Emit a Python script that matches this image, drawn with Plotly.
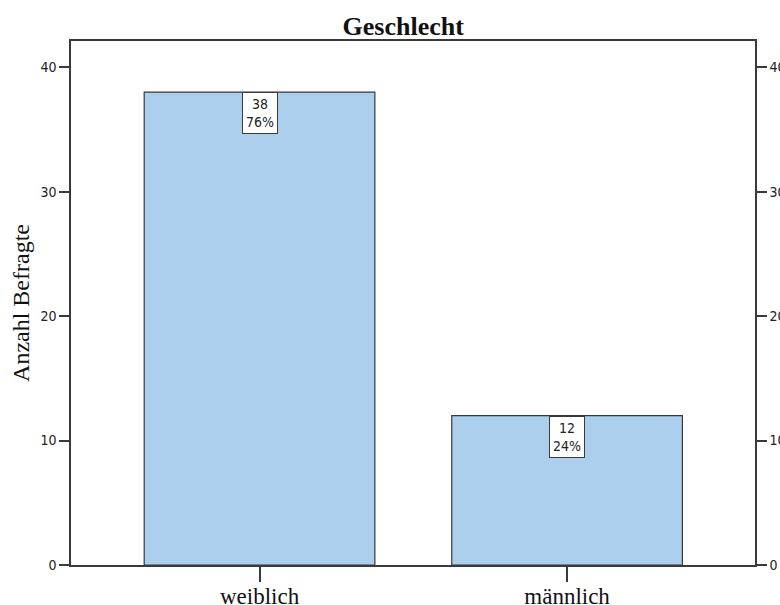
import plotly.graph_objects as go

categories = ["weiblich", "männlich"]
counts = [38, 12]
percents = ["76%", "24%"]
y_ticks = [0, 10, 20, 30, 40]

bar_color = "#ABCFEC"
line_color = "#3a3a3a"

fig = go.Figure()
fig.add_trace(go.Bar(
    x=[0, 1], y=counts, width=0.75,
    marker=dict(color=bar_color, line=dict(color=line_color, width=1.2)),
    showlegend=False, hoverinfo="skip",
))
# invisible trace to activate right axis
fig.add_trace(go.Scatter(x=[0], y=[0], yaxis="y2", mode="markers",
                         marker=dict(opacity=0), showlegend=False, hoverinfo="skip"))

for i, (c, p) in enumerate(zip(counts, percents)):
    fig.add_annotation(
        x=i, y=c, xref="x", yref="y", text=f"{c}<br>{p}",
        showarrow=False, yanchor="top", xanchor="center",
        bgcolor="white", bordercolor=line_color, borderwidth=1, borderpad=3,
        font=dict(family="DejaVu Sans Condensed, DejaVu Sans", size=14, color="#222"),
        align="center",
    )

axis_common = dict(
    range=[0, 42.1], tickvals=y_ticks, ticks="outside", ticklen=10,
    tickcolor=line_color, tickwidth=1.5, showgrid=False, zeroline=False,
    showline=True, linecolor=line_color, linewidth=1.5, automargin=False,
    tickfont=dict(family="DejaVu Sans Condensed, DejaVu Sans", size=14, color="#222"),
)

fig.update_layout(
    width=780, height=605,
    margin=dict(l=71, r=25, t=41, b=40),
    plot_bgcolor="white", paper_bgcolor="white",
    title=dict(text="<b>Geschlecht</b>", x=0.517, xanchor="center", y=0.957, yanchor="middle",
               font=dict(family="Liberation Serif", size=26, color="#111")),
    xaxis=dict(range=[-0.613, 1.611], tickvals=[0, 1], ticktext=categories,
               ticks="outside", ticklen=15, tickcolor=line_color, tickwidth=1.5,
               ticklabelstandoff=-5,
               showline=True, linecolor=line_color, linewidth=1.5, mirror=True,
               showgrid=False, zeroline=False, automargin=False,
               tickfont=dict(family="Liberation Serif", size=23, color="#111")),
    yaxis=dict(title=dict(text="Anzahl Befragte", standoff=4,
                          font=dict(family="Liberation Serif", size=24, color="#111")),
               side="left", **axis_common),
    yaxis2=dict(overlaying="y", side="right", **axis_common),
)

# remove default page margin so the figure sits at the window corner
fig.write_html("out.html", config={"displayModeBar": False},
               post_script="document.body.style.margin='0';")
